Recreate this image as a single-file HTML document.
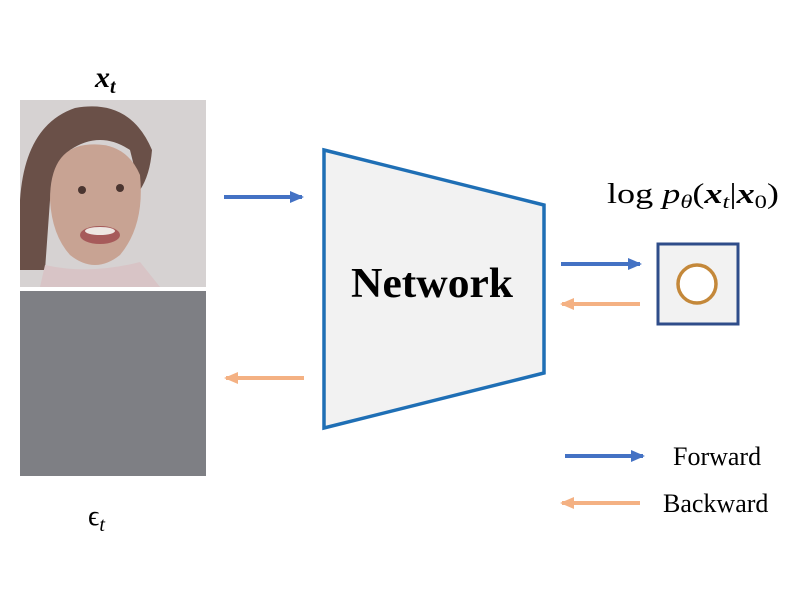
<!DOCTYPE html>
<html><head><style>
html,body{margin:0;padding:0;background:#fff;}
svg{display:block;}
</style></head><body>
<svg width="800" height="591" viewBox="0 0 800 591" xmlns="http://www.w3.org/2000/svg">
<defs>
<marker id="ab" markerWidth="14" markerHeight="14" refX="12" refY="7" orient="auto" markerUnits="userSpaceOnUse"><path d="M0,1 L14,7 L0,13 Z" fill="#4472c4"/></marker>
<marker id="ao" markerWidth="14" markerHeight="14" refX="12" refY="7" orient="auto" markerUnits="userSpaceOnUse"><path d="M0,1 L14,7 L0,13 Z" fill="#f4b183"/></marker>
<clipPath id="img"><rect x="20" y="100" width="186" height="187"/></clipPath>
</defs>
<g clip-path="url(#img)">
<rect x="20" y="100" width="186" height="187" fill="#d6d2d2"/>
<path d="M20,200 Q25,125 75,108 Q130,98 152,150 Q150,175 140,190 L130,150 Q100,130 70,150 L50,200 L45,270 L20,270 Z" fill="#6a5048"/>
<path d="M50,200 Q50,150 85,145 Q125,140 140,175 Q145,225 120,255 Q95,275 70,255 Q52,235 50,200 Z" fill="#c8a393"/>
<ellipse cx="100" cy="235" rx="20" ry="9" fill="#a65a5a"/>
<ellipse cx="100" cy="231" rx="15" ry="4" fill="#eee6e2"/>
<path d="M40,287 L45,265 Q90,275 140,262 L160,287 Z" fill="#d8c4c6"/>
<circle cx="82" cy="190" r="4" fill="#4a3530"/><circle cx="120" cy="188" r="4" fill="#4a3530"/>
</g>
<rect x="20" y="291" width="186" height="185" fill="#7e7f84"/>
<text x="95" y="87" font-family="Liberation Serif, serif" font-size="30" font-weight="bold" font-style="italic">x<tspan font-size="20" dy="6">t</tspan></text>
<text x="88" y="525" font-family="Liberation Serif, serif" font-size="28">ϵ<tspan font-size="20" dy="6" font-style="italic">t</tspan></text>
<polygon points="324,150 544,205 544,373 324,428" fill="#f2f2f2" stroke="#1f6fb5" stroke-width="3.5"/>
<text x="351" y="297" textLength="162" lengthAdjust="spacingAndGlyphs" font-family="Liberation Serif, serif" font-size="42" font-weight="bold">Network</text>
<line x1="224" y1="197" x2="302" y2="197" stroke="#4472c4" stroke-width="4" marker-end="url(#ab)"/>
<line x1="304" y1="378" x2="226" y2="378" stroke="#f4b183" stroke-width="4" marker-end="url(#ao)"/>
<line x1="561" y1="264" x2="640" y2="264" stroke="#4472c4" stroke-width="4" marker-end="url(#ab)"/>
<line x1="640" y1="304" x2="562" y2="304" stroke="#f4b183" stroke-width="4" marker-end="url(#ao)"/>
<line x1="565" y1="456" x2="643" y2="456" stroke="#4472c4" stroke-width="4" marker-end="url(#ab)"/>
<line x1="640" y1="503" x2="562" y2="503" stroke="#f4b183" stroke-width="4" marker-end="url(#ao)"/>
<rect x="658" y="244" width="80" height="80" fill="#f2f2f2" stroke="#2f4d8a" stroke-width="3"/>
<circle cx="697" cy="284" r="19" fill="#fff" stroke="#c4883a" stroke-width="3.5"/>
<text x="607" y="203" textLength="172" lengthAdjust="spacingAndGlyphs" font-family="Liberation Serif, serif" font-size="28">log <tspan font-style="italic">p</tspan><tspan font-size="19" dy="5" font-style="italic">θ</tspan><tspan dy="-5">(</tspan><tspan font-weight="bold" font-style="italic">x</tspan><tspan font-size="19" dy="5" font-style="italic">t</tspan><tspan dy="-5">|</tspan><tspan font-weight="bold" font-style="italic">x</tspan><tspan font-size="19" dy="5">0</tspan><tspan dy="-5">)</tspan></text>
<text x="673" y="465" font-family="Liberation Serif, serif" font-size="26">Forward</text>
<text x="663" y="512" font-family="Liberation Serif, serif" font-size="26">Backward</text>
</svg>
</body></html>
